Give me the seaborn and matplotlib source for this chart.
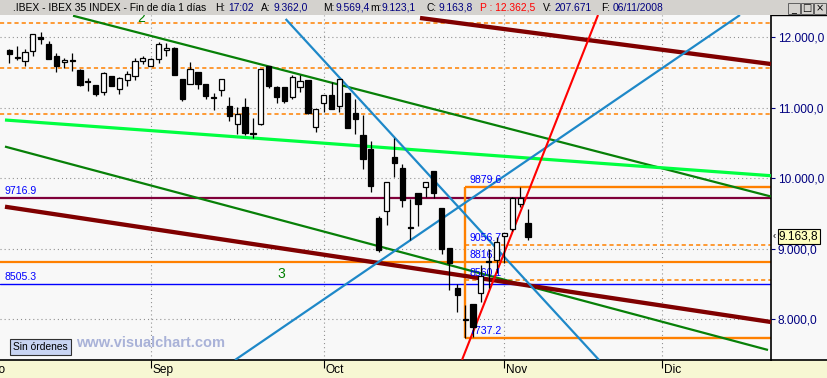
import numpy as np
import pandas as pd
import matplotlib
matplotlib.use("Agg")
import matplotlib.pyplot as plt
import matplotlib.transforms as mtransforms
from matplotlib.patches import Rectangle
from matplotlib.lines import Line2D
import seaborn as sns

# ---------------- data ----------------
day_index = list(range(67))  # trading days from 06/08/2008 to 06/11/2008
opens = [11820, 11721, 11660, 11801, 12004, 11905, 11735, 11645, 11675, 11536,
         11385, 11319, 11220, 11451, 11262, 11390, 11455, 11668, 11597, 11696,
         11816, 11848, 11409, 11333, 11508, 11333, 11150, 11248, 11026, 10766,
         11011, 10635, 10766, 11593, 11299, 11291, 11149, 11291, 11394, 10732,
         11064, 11182, 11030, 11210, 10931, 10614, 10416, 9433, 9540, 10306,
         10146, 9310, 9796, 9881, 10104, 9579, 9016, 8444, 7985, 8217,
         8369, 8825, 8841, 9182, 9277, 9631, 9362.0]
highs = [11830, 11880, 11834, 12045, 12079, 11948, 11773, 11706, 11773, 11546,
         11418, 11319, 11508, 11451, 11441, 11526, 11706, 11730, 11700, 11938,
         11923, 11858, 11409, 11650, 11508, 11333, 11210, 11404, 11157, 11016,
         11135, 10851, 11546, 11593, 11313, 11291, 11465, 11465, 11394, 10979,
         11182, 11362, 11409, 11210, 11125, 10898, 10529, 9465, 9943, 10567,
         10203, 9702, 9796, 9943, 10104, 9579, 9016, 8496, 8203, 8217,
         8770, 9000, 9172, 9220, 9730, 9879.6, 9569.4]
lows = [11640, 11678, 11597, 11739, 11901, 11688, 11512, 11569, 11526, 11313,
        11243, 11172, 11186, 11313, 11196, 11313, 11394, 11620, 11590, 11631,
        11739, 11470, 11101, 11333, 11271, 11121, 10973, 11167, 10817, 10628,
        10614, 10567, 10750, 11281, 11072, 11072, 11121, 11228, 10908, 10661,
        10940, 10983, 10945, 10709, 10628, 10136, 9810, 8955, 9342, 10023,
        9597, 9125, 9323, 9739, 9716, 8922, 8416, 8108, 7737.2, 7753,
        8250, 8440, 8657, 8794, 9250, 9600, 9123.1]
closes = [11767, 11700, 11787, 12042, 11980, 11688, 11597, 11682, 11660, 11328,
          11370, 11200, 11489, 11313, 11418, 11475, 11664, 11706, 11688, 11905,
          11848, 11470, 11125, 11550, 11342, 11172, 11140, 11404, 10888, 10912,
          10647, 10625, 11546, 11313, 11157, 11096, 11433, 11376, 10931, 10979,
          11182, 10983, 11409, 10718, 10841, 10278, 9895, 8983, 9943, 10213,
          9692, 9300, 9636, 9943, 9787, 8993, 8803, 8341, 8000, 7895,
          8614, 8815, 9101, 9220, 9716, 9725, 9163.8]

month_labels = ["Ago", "Sep", "Oct", "Nov", "Dic"]
month_index = [-3, 18, 40, 63, 83]
price_ticks = [8000, 9000, 10000, 11000, 12000]

# trend lines: start/end (day index, price)
trend_names = ["green_hi", "green_lo", "lime", "maroon_lo", "maroon_hi",
               "blue_down", "blue_up", "red"]
trend_x0 = [8.11, -0.55, -0.55, -0.55, 52.26, 35.16, 28.72, 57.60]
trend_p0 = [12306, 10450, 10827, 9597, 12274, 12260, 7423, 7423]
trend_x1 = [96.9, 96.54, 96.9, 96.9, 96.9, 75.04, 92.97, 74.91]
trend_p1 = [9742, 7565, 10037, 7962, 11621, 7423, 12316, 12316]
trend_colors = ["#078007", "#078007", "#00FF40", "#800000", "#800000",
                "#1E88C8", "#1E88C8", "#FF0000"]
trend_widths = [1.6, 1.6, 2.3, 3.1, 3.1, 1.6, 1.6, 1.5]

# horizontal levels
dashed_levels = [12207, 11560, 10908]
purple_level = 9716.9
blue_level = 8505.3
orange_level = 8816.5

# fibonacci retracement
fib_start_idx = 58
fib_high = 9879.6
fib_low = 7737.2
fib_levels = [9056.7, 8816.5, 8560.1]
fib_labels = ["9879.6", "9056.7", "8816.5", "8560.1", "7737.2"]

# ---------------- figure ----------------
W, H = 828, 378
sns.set_theme(style="white")
plt.rcParams['font.family'] = ['Liberation Sans', 'DejaVu Sans']
plt.rcParams['lines.scale_dashes'] = False

BG = '#F8F8F8'
fig = plt.figure(figsize=(W / 100, H / 100), dpi=100, facecolor=BG)
PL, PR, PT, PB = 0, 771, 15, 360
ax = fig.add_axes([PL / W, (H - PB) / H, (PR - PL) / W, (PB - PT) / H])
ax.set_facecolor(BG)
X_LEFT, X_RIGHT = -1.183, 96.92
Y_BOT, Y_TOP = 7422.8, 12316.3
ax.set_xlim(X_LEFT, X_RIGHT)
ax.set_ylim(Y_BOT, Y_TOP)


def off(dx, dy):
    return mtransforms.ScaledTranslation(dx / 100, dy / 100, fig.dpi_scale_trans)


dot = (0, (0.75, 2.2))
dash = (0, (3.0, 2.2))
for p in price_ticks:
    ax.axhline(p, color='#8C8C8C', lw=0.8, ls=dot, zorder=1)
for m in month_index[1:]:
    ax.axvline(m, color='#8C8C8C', lw=0.8, ls=dot, zorder=1)

for p in dashed_levels:
    ax.axhline(p, color='#FF8000', lw=1.1, ls=dash, zorder=2)

ax.axhline(purple_level, color='#80003A', lw=1.6, zorder=2)
ax.axhline(blue_level, color='#0000FF', lw=1.0, zorder=2)
ax.axhline(orange_level, color='#FF8000', lw=1.6, zorder=2)

# fib rectangle
ax.hlines([fib_high, fib_low], fib_start_idx, X_RIGHT, color='#FF8000', lw=1.7, zorder=2)
ax.vlines(fib_start_idx, fib_low, fib_high, color='#FF8000', lw=1.7, zorder=2)
ax.hlines([fib_levels[0], fib_levels[2]], fib_start_idx, X_RIGHT, color='#FF8000',
          lw=1.1, ls=dash, zorder=2)

# trend lines with seaborn
for i in range(len(trend_names)):
    sns.lineplot(x=[trend_x0[i], trend_x1[i]], y=[trend_p0[i], trend_p1[i]],
                 color=trend_colors[i], linewidth=trend_widths[i], ax=ax,
                 legend=False, zorder=3, solid_capstyle='butt')

# candles
df = pd.DataFrame(dict(idx=day_index, o=opens, h=highs, l=lows, c=closes))
up = df.c >= df.o
ax.vlines(df.idx, df.l, df.h, color='black', lw=0.9, zorder=5)
body_bottom = np.minimum(df.o, df.c)
body_height = np.maximum(np.abs(df.c - df.o), 12)
ax.bar(df.idx, body_height, bottom=body_bottom, width=0.66,
       color=np.where(up, 'white', 'black'), edgecolor='black', linewidth=0.9,
       zorder=6)

# labels
lab_kw = dict(fontsize=7.6, color='#0000FF', va='baseline', ha='left', zorder=4)
ax.text(5 / 771, purple_level, "9716.9", transform=ax.get_yaxis_transform() + off(0, 4), **lab_kw)
ax.text(5 / 771, blue_level, "8505.3", transform=ax.get_yaxis_transform() + off(0, 4), **lab_kw)
for val, txt in zip([fib_high] + fib_levels + [fib_low], fib_labels):
    ax.text(fib_start_idx, val, txt, transform=ax.transData + off(4, 3.5), **lab_kw)
ax.text(34.06, 8586, "3", fontsize=10, color='#008000', ha='left', va='baseline', zorder=4)
ax.text(16.25, 12215, "2", fontsize=10, color='#008000', ha='left', va='baseline',
        zorder=4, clip_on=True)

# axes styling
for s in ['left', 'top']:
    ax.spines[s].set_visible(False)
for s in ['right', 'bottom']:
    ax.spines[s].set_color('black')
    ax.spines[s].set_linewidth(1.2)
ax.grid(False)

ax.yaxis.tick_right()
ax.set_yticks(price_ticks, labels=[f"{p:,.1f}".replace(',', 'X').replace('.', ',').replace('X', '.')
                                   for p in price_ticks])
ax.tick_params(axis='y', direction='out', length=3, width=0.8, colors='#000080',
               labelsize=8.6, pad=1.8, right=True, left=False)
ax.set_xticks(month_index[1:])
ax.tick_params(axis='x', direction='out', length=6, width=0.8, color='black',
               labelbottom=False, bottom=True)
for m, lab in zip(month_index, month_labels):
    dx = -1 if m < X_LEFT else 2
    ax.text(m, 0, lab, transform=ax.get_xaxis_transform() + off(dx, -4), fontsize=8.6,
            ha='left', va='top', color='black', clip_on=False)

# tooltip on the price axis
ax.text(1, 9163.8, "9.163,8", transform=ax.get_yaxis_transform() + off(8, 1), fontsize=8.6,
        va='center', ha='left', color='black', clip_on=False, zorder=10,
        bbox=dict(boxstyle='square,pad=0.12', fc='#FFFFC0', ec='black', lw=0.8))
ax.text(1, 9163.8, "‹", transform=ax.get_yaxis_transform() + off(2, 1), fontsize=7,
        va='center', ha='left', color='black', clip_on=False)

# bottom strip
fig.add_artist(Rectangle((0, 0), 1, (H - PB) / H, transform=fig.transFigure,
                         facecolor='#F7F7D3', edgecolor='none', zorder=-1))
fig.add_artist(Line2D([PR / W, 1], [(H - PB) / H] * 2, transform=fig.transFigure,
                      color='black', lw=1.2, zorder=2))
fig.add_artist(Line2D([PR / W, 1], [(H - PT) / H] * 2, transform=fig.transFigure,
                      color='black', lw=1.0, zorder=2))

# header bar
fig.add_artist(Rectangle((0, (H - PT) / H), 1, PT / H, transform=fig.transFigure,
                         facecolor='#D4D2CE', edgecolor='none', zorder=2))
navy = '#000080'
header = [(13, ".IBEX - IBEX 35 INDEX - Fin de día 1 días", 'black'),
          (215, "H:", 'black'), (228, "17:02", navy),
          (261, "A:", 'black'), (273, "9.362,0", navy),
          (323, "M:", 'black'), (336, "9.569,4", navy),
          (370, "m:", 'black'), (382, "9.123,1", navy),
          (427, "C:", 'black'), (439, "9.163,8", navy),
          (480, "P : 12.362,5", '#FF0000'),
          (543, "V:", 'black'), (555, "207.671", navy),
          (601, "F:", 'black'), (613, "06/11/2008", navy)]
for xp, txt, col in header:
    fig.text(xp / W, (H - 8) / H, txt, fontsize=7.35, color=col, ha='left', va='center')

for i, g in enumerate(["_", "□", "×"]):
    x0 = 788 + i * 13
    fig.add_artist(Rectangle((x0 / W, (H - 14) / H), 12 / W, 11 / H, transform=fig.transFigure,
                             facecolor='#D4D2CE', edgecolor='#606060', lw=0.7, zorder=3))
    fig.text((x0 + 6) / W, (H - 8.5) / H, g, fontsize=7, ha='center', va='center',
             color='black', family=['DejaVu Sans'], zorder=4)

# button + watermark
fig.add_artist(Rectangle((9.5 / W, (H - 355) / H), 61.5 / W, 16 / H, transform=fig.transFigure,
                         facecolor='#C8D4F2', edgecolor='#303030', lw=0.8, zorder=4))
fig.text(40 / W, (H - 347) / H, "Sin órdenes", fontsize=7.4, ha='center', va='center',
         color='black', zorder=5)
fig.text(76 / W, (H - 343) / H, "www.visualchart.com", fontsize=10.5, fontweight='bold',
         ha='left', va='center', color='#A9B2D8', zorder=5)

fig.savefig("out.png", dpi=100, facecolor=BG)
